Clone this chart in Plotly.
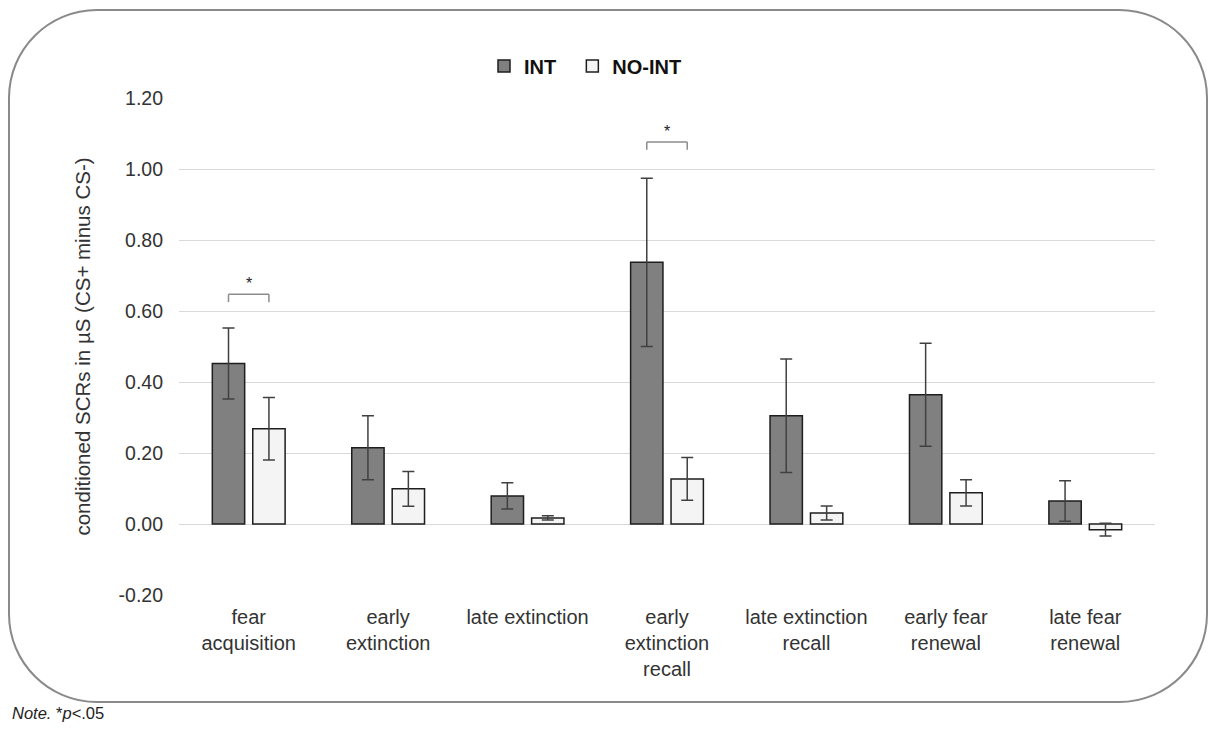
import plotly.graph_objects as go

categories = ["fear<br>acquisition", "early<br>extinction", "late extinction",
              "early<br>extinction<br>recall", "late extinction<br>recall",
              "early fear<br>renewal", "late fear<br>renewal"]
int_means = [0.452, 0.215, 0.079, 0.737, 0.305, 0.364, 0.065]
int_errors = [0.100, 0.090, 0.037, 0.237, 0.160, 0.145, 0.057]
noint_means = [0.268, 0.099, 0.017, 0.127, 0.031, 0.088, -0.016]
noint_errors = [0.088, 0.049, 0.006, 0.060, 0.020, 0.037, 0.018]
tick_vals = [-0.2, 0.0, 0.2, 0.4, 0.6, 0.8, 1.0, 1.2]
tick_text = ["-0.20", "0.00", "0.20", "0.40", "0.60", "0.80", "1.00", "1.20"]
sig_pairs = [0, 3]           # category indices with significant difference
sig_heights = [0.647, 1.076]  # bracket heights

FONT = "Liberation Sans, Arial, sans-serif"
W, H = 1214, 742
L, R, T, B = 179, 59, 98, 147
BARGAP = 0.42

fig = go.Figure()
fig.add_trace(go.Bar(
    name="<b>INT</b>&nbsp;&nbsp;", x=categories, y=int_means,
    marker=dict(color="#808080", line=dict(color="#1e1e1e", width=1.5)),
    error_y=dict(type="data", array=int_errors, color="#404040", thickness=1.5, width=6),
))
fig.add_trace(go.Bar(
    name="<b>NO-INT</b>", x=categories, y=noint_means,
    marker=dict(color="#f4f4f4", line=dict(color="#1e1e1e", width=1.5)),
    error_y=dict(type="data", array=noint_errors, color="#404040", thickness=1.5, width=6),
))

# significance brackets
off = (1 - BARGAP) / 4
for idx, h in zip(sig_pairs, sig_heights):
    x0, x1 = idx - off, idx + off
    arm = 0.022
    for (a, b, c, d) in [(x0, h - arm, x0, h), (x0, h, x1, h), (x1, h, x1, h - arm)]:
        fig.add_shape(type="line", xref="x", yref="y", x0=a, y0=b, x1=c, y1=d,
                      line=dict(color="#8c8c8c", width=1.5))
    fig.add_annotation(x=idx, y=h, xref="x", yref="y", text="*", showarrow=False,
                       yanchor="bottom", yshift=0, font=dict(size=16, color="#222", family=FONT))

# rounded border in paper coords
pw, ph = W - L - R, H - T - B
def px(x): return (x - L) / pw
def py(y): return (H - B - y) / ph
x_l, x_r, y_t, y_b, rad = 9, 1207, 10, 702, 88
k = 0.5523 * rad
path = (
    f"M {px(x_l + rad)},{py(y_t)} L {px(x_r - rad)},{py(y_t)} "
    f"C {px(x_r - rad + k)},{py(y_t)} {px(x_r)},{py(y_t + rad - k)} {px(x_r)},{py(y_t + rad)} "
    f"L {px(x_r)},{py(y_b - rad)} "
    f"C {px(x_r)},{py(y_b - rad + k)} {px(x_r - rad + k)},{py(y_b)} {px(x_r - rad)},{py(y_b)} "
    f"L {px(x_l + rad)},{py(y_b)} "
    f"C {px(x_l + rad - k)},{py(y_b)} {px(x_l)},{py(y_b - rad + k)} {px(x_l)},{py(y_b - rad)} "
    f"L {px(x_l)},{py(y_t + rad)} "
    f"C {px(x_l)},{py(y_t + rad - k)} {px(x_l + rad - k)},{py(y_t)} {px(x_l + rad)},{py(y_t)} Z"
)
fig.add_shape(type="path", xref="paper", yref="paper", path=path,
              line=dict(color="#8a8a8a", width=2), layer="below")

fig.add_annotation(xref="paper", yref="paper", x=px(10), y=py(713), xanchor="left", yanchor="middle",
                   text="<i>Note.</i> *<i>p</i>&lt;.05", showarrow=False,
                   font=dict(size=16.5, color="#222", family=FONT))

fig.update_layout(
    width=W, height=H, margin=dict(l=L, r=R, t=T, b=B),
    paper_bgcolor="white", plot_bgcolor="white",
    barmode="group", bargap=BARGAP, bargroupgap=0.2,
    font=dict(family=FONT, size=19, color="#333"),
    legend=dict(orientation="h", x=px(484), y=py(66), xanchor="left", yanchor="middle",
                font=dict(size=20, color="#111", family=FONT), itemwidth=30,
                bgcolor="rgba(0,0,0,0)"),
    xaxis=dict(showgrid=False, showline=False, ticks="", ticklabelstandoff=8,
               tickfont=dict(size=20, color="#333")),
    yaxis=dict(range=[-0.2, 1.2], tickvals=tick_vals, ticktext=tick_text,
               showgrid=True, gridcolor="#d9d9d9", gridwidth=1.2,
               zeroline=True, zerolinecolor="#d9d9d9", zerolinewidth=1.2,
               showline=False, ticks="", ticklabelstandoff=15,
               tickfont=dict(size=19.5, color="#333"),
               title=dict(text="conditioned SCRs in µS (CS+ minus CS-)", standoff=22,
                          font=dict(size=20.5, color="#333"))),
)

fig.write_html("out.html", config={"displayModeBar": False},
               post_script="document.body.style.margin='0';")
